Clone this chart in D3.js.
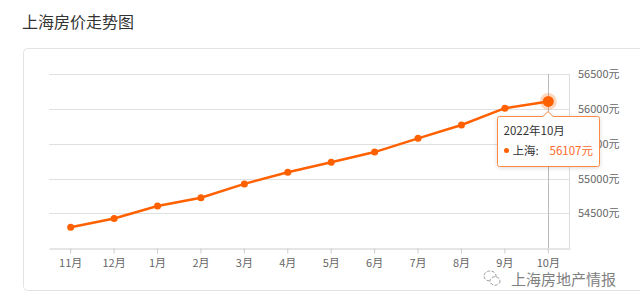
<!DOCTYPE html>
<meta charset="UTF-8">
<style>
	body { margin: 0; background: #fff; }
	text { font-family: "Microsoft YaHei", "Noto Sans CJK SC", sans-serif; }
</style>
<body>
<script src="https://cdn.jsdelivr.net/npm/d3@7"></script>
<script>
	// data
	var months = ["11月", "12月", "1月", "2月", "3月", "4月", "5月", "6月", "7月", "8月", "9月", "10月"];
	var prices = [54303, 54427, 54606, 54726, 54924, 55091, 55235, 55380, 55577, 55769, 56010, 56107];
	var yTicks = [54500, 55000, 55500, 56000, 56500];
	var seriesName = "上海";
	var tipTitle = "2022年10月";

	var W = 640, H = 305;
	var orange = "#ff6000";

	var svg = d3.select("body").append("svg")
		.attr("width", W)
		.attr("height", H);

	// title
	svg.append("text")
		.attr("x", 22).attr("y", 28)
		.style("font-size", "16px")
		.attr("fill", "#333")
		.text("上海房价走势图");

	// panel
	svg.append("rect")
		.attr("x", 23.5).attr("y", 48.5)
		.attr("width", 640).attr("height", 242)
		.attr("rx", 4)
		.attr("fill", "#fff")
		.attr("stroke", "#e3e3e3");

	var x = d3.scaleBand().domain(months).range([49, 570]);
	var y = d3.scaleLinear().domain([54000, 56500]).range([248.3, 74]);
	var cx = d => x(d) + x.bandwidth() / 2;

	// grid
	svg.append("g")
		.selectAll("line")
		.data(yTicks)
		.join("line")
		.attr("x1", 49).attr("x2", 570)
		.attr("y1", d => Math.round(y(d)) + 0.5)
		.attr("y2", d => Math.round(y(d)) + 0.5)
		.attr("stroke", "#e0e0e0");

	// right axis line
	svg.append("line")
		.attr("x1", 569.5).attr("x2", 569.5)
		.attr("y1", 74).attr("y2", 248)
		.attr("stroke", "#ddd");

	// right labels
	svg.append("g")
		.selectAll("text")
		.data(yTicks)
		.join("text")
		.attr("x", 578)
		.attr("y", d => y(d) + 4)
		.style("font-size", "11px")
		.attr("fill", "#666")
		.text(d => d + "元");

	// x axis
	var xAxis = svg.append("g")
		.attr("transform", "translate(0,248.5)")
		.call(d3.axisBottom(x).tickSize(5).tickPadding(6).tickSizeOuter(0));
	xAxis.select(".domain").attr("stroke", "#ccc");
	xAxis.selectAll(".tick line").attr("stroke", "#ccc");
	xAxis.selectAll(".tick text")
		.style("font-size", "11px")
		.style("font-family", "'Microsoft YaHei', 'Noto Sans CJK SC', sans-serif")
		.attr("fill", "#666");

	// axis pointer for last month
	var last = months.length - 1;
	svg.append("line")
		.attr("x1", Math.round(cx(months[last])) + 0.5)
		.attr("x2", Math.round(cx(months[last])) + 0.5)
		.attr("y1", 74).attr("y2", 248)
		.attr("stroke", "#bbb");

	// line
	svg.append("path")
		.datum(prices)
		.attr("fill", "none")
		.attr("stroke", orange)
		.attr("stroke-width", 2.5)
		.attr("d", d3.line().x((d, i) => cx(months[i])).y(d => y(d)));

	svg.append("g")
		.selectAll("circle")
		.data(prices)
		.join("circle")
		.attr("cx", (d, i) => cx(months[i]))
		.attr("cy", d => y(d))
		.attr("r", (d, i) => i == last ? 0 : 3.5)
		.attr("fill", orange);

	// highlighted last point
	svg.append("circle")
		.attr("cx", cx(months[last])).attr("cy", y(prices[last]))
		.attr("r", 8.5)
		.attr("fill", orange).attr("opacity", 0.25);
	svg.append("circle")
		.attr("cx", cx(months[last])).attr("cy", y(prices[last]))
		.attr("r", 5.5)
		.attr("fill", orange);

	// tooltip
	var tx = 497.5, ty = 116.5, tw = 102, th = 50;
	var px = Math.round(cx(months[last]));
	var tip = svg.append("g");
	tip.append("path")
		.attr("d", `M${tx + 2},${ty} H${px - 5} L${px},${ty - 5} L${px + 5},${ty} H${tx + tw - 2} Q${tx + tw},${ty} ${tx + tw},${ty + 2} V${ty + th - 2} Q${tx + tw},${ty + th} ${tx + tw - 2},${ty + th} H${tx + 2} Q${tx},${ty + th} ${tx},${ty + th - 2} V${ty + 2} Q${tx},${ty} ${tx + 2},${ty} Z`)
		.attr("fill", "rgba(255,255,255,0.96)")
		.attr("stroke", "#ff8a40")
		.style("filter", "drop-shadow(0 1px 2px rgba(0,0,0,0.15))");
	tip.append("text")
		.attr("x", tx + 6).attr("y", ty + 18)
		.style("font-size", "11.5px")
		.attr("fill", "#333")
		.text(tipTitle);
	tip.append("circle")
		.attr("cx", tx + 9).attr("cy", ty + 34)
		.attr("r", 2.5)
		.attr("fill", orange);
	tip.append("text")
		.attr("x", tx + 15).attr("y", ty + 38)
		.style("font-size", "11.5px")
		.attr("fill", "#333")
		.text(seriesName + ":");
	tip.append("text")
		.attr("x", tx + 52).attr("y", ty + 38)
		.style("font-size", "11.5px")
		.attr("fill", "#ff6a2a")
		.text(prices[last] + "元");

	// watermark
	var wm = svg.append("g").attr("transform", "translate(491,278)");
	wm.append("ellipse").attr("rx", 6).attr("ry", 5).attr("cx", -1).attr("cy", -2)
		.attr("fill", "#fff").attr("stroke", "#999").attr("stroke-dasharray", "3,1.5");
	wm.append("ellipse").attr("rx", 5).attr("ry", 4.2).attr("cx", 4).attr("cy", 3)
		.attr("fill", "#fff").attr("stroke", "#999").attr("stroke-dasharray", "3,1.5");
	svg.append("text")
		.attr("x", 511).attr("y", 285)
		.style("font-size", "15px")
		.attr("fill", "#808080")
		.text("上海房地产情报");
</script>
</body>
